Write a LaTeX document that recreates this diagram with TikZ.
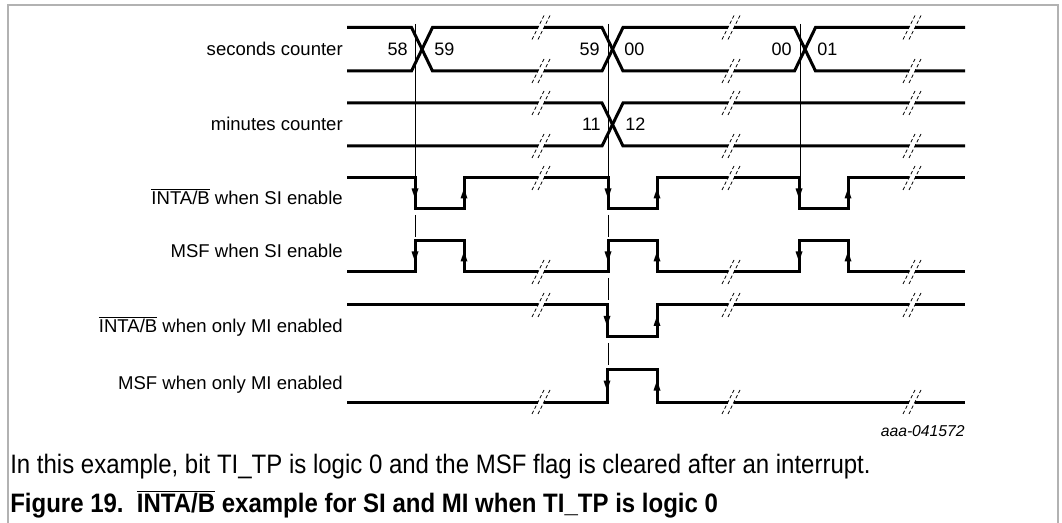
\documentclass[tikz,border=0pt]{standalone}
\usepackage{fontspec}
\setmainfont{Liberation Sans}
\usepackage{xcolor}
\usepackage{graphicx}

\definecolor{framegray}{RGB}{178,178,178}

\tikzset{
  sig/.style={line width=2.25pt, line join=miter},
  guide/.style={line width=0.6pt},
  brk/.style={line width=0.6pt, dash pattern=on 2.6pt off 1.8pt},
  lbl/.style={anchor=base east, inner sep=0pt, font=\fontsize{13.9}{16}\selectfont},
  val/.style={inner sep=0pt, font=\fontsize{13.5}{16}\selectfont}
}
% break sign on a line: x, y
\newcommand{\brkmark}[2]{%
  \fill[white] (#1-3,#2-3) rectangle (#1+3,#2+3);
  \draw[brk] (#1-9,#2+12) -- (#1+3,#2-12);
  \draw[brk] (#1-3,#2+12) -- (#1+9,#2-12);}
% arrowheads on edges: x, middle of edge
\newcommand{\tipdn}[2]{\fill (#1-3.5,#2-5) -- (#1+3.5,#2-5) -- (#1,#2+5) -- cycle;}
\newcommand{\tipup}[2]{\fill (#1-3.5,#2+5) -- (#1+3.5,#2+5) -- (#1,#2-5) -- cycle;}
\newcommand{\inta}{$\overline{\hbox{INTA/B}}$}

\begin{document}
\begin{tikzpicture}[x=0.75pt,y=-0.75pt]
  \useasboundingbox (0,0) rectangle (1062,523);
  % frame
  \draw[framegray, line width=1.1pt] (8,523) -- (8,5) -- (1058,5) -- (1058,523);

  % guide lines
  \draw[guide] (415,24) -- (415,178) (415,215) -- (415,237);
  \draw[guide] (608,24) -- (608,178) (608,215) -- (608,237)
               (608,278) -- (608,300) (608,343) -- (608,365);
  \draw[guide] (800,24) -- (800,178);

  % seconds counter
  \draw[sig] (347,27.5) -- (411.5,27.5) -- (432.5,71) -- (602,71) -- (623,27.5)
             -- (794.5,27.5) -- (815.5,71) -- (965,71);
  \draw[sig] (347,71) -- (411.5,71) -- (432.5,27.5) -- (602,27.5) -- (623,71)
             -- (794.5,71) -- (815.5,27.5) -- (965,27.5);
  % minutes counter
  \draw[sig] (347,103) -- (602,103) -- (623,146) -- (965,146);
  \draw[sig] (347,146) -- (602,146) -- (623,103) -- (965,103);
  % INTA/B when SI enable
  \draw[sig] (347,178) -- (415,178) -- (415,209) -- (464,209) -- (464,178)
             -- (608,178) -- (608,209) -- (657,209) -- (657,178)
             -- (799,178) -- (799,209) -- (848,209) -- (848,178) -- (965,178);
  % MSF when SI enable
  \draw[sig] (347,272) -- (415,272) -- (415,241) -- (464,241) -- (464,272)
             -- (608,272) -- (608,241) -- (657,241) -- (657,272)
             -- (799,272) -- (799,241) -- (848,241) -- (848,272) -- (965,272);
  % INTA/B when only MI enabled
  \draw[sig] (347,305) -- (607,305) -- (607,337) -- (657,337) -- (657,305) -- (965,305);
  % MSF when only MI enabled
  \draw[sig] (347,402) -- (607,402) -- (607,369) -- (657,369) -- (657,402) -- (965,402);

  % arrowheads
  \foreach \x/\y in {415/193.5, 608/193.5, 799/193.5, 415/256.5, 608/256.5, 799/256.5,
                     607/321, 607/385.5}
    {\tipdn{\x}{\y}}
  \foreach \x/\y in {464/193.5, 657/193.5, 848/193.5, 464/256.5, 657/256.5, 848/256.5,
                     657/321, 657/385.5}
    {\tipup{\x}{\y}}

  % breaks
  \foreach \x in {541,731,912}
    \foreach \y in {27.5,71,103,146,178,272,305,402}
      {\brkmark{\x}{\y}}

  % values
  \node[val, anchor=base east] (s58) at (408,55.5) {58};
  \node[val, anchor=base west] (s59) at (434,55.5) {59};
  \node[val, anchor=base east] (s59b) at (600,55.5) {59};
  \node[val, anchor=base west] (s00) at (624,55.5) {00};
  \node[val, anchor=base east] (s00b) at (792,55.5) {00};
  \node[val, anchor=base west] (s01) at (817,55.5) {01};
  \node[val, anchor=base east] (m11) at (601,131) {11};
  \node[val, anchor=base west] (m12) at (625,131) {12};

  % signal names
  \node[lbl] (lsec) at (343,56) {seconds counter};
  \node[lbl] (lmin) at (343,130.5) {minutes counter};
  \node[lbl] (lintsi) at (343,205) {\inta{} when SI enable};
  \node[lbl] (lmsfsi) at (343,257.5) {MSF when SI enable};
  \node[lbl] (lintmi) at (343,333) {\inta{} when only MI enabled};
  \node[lbl] (lmsfmi) at (343,389.5) {MSF when only MI enabled};

  \node[anchor=base east, inner sep=0pt, font=\fontsize{11.8}{14}\selectfont\itshape]
    (code) at (965,436) {aaa-041572};

  % captions
  \node[anchor=base west, inner sep=0pt, font=\fontsize{20}{24}\selectfont]
    (note) at (10,473) {\scalebox{0.9}[1]{In this example, bit TI\_TP is logic 0 and the MSF flag is cleared after an interrupt.}};
  \node[anchor=base west, inner sep=0pt, font=\fontsize{20}{24}\selectfont\bfseries]
    (title) at (10,512) {\scalebox{0.9}[1]{Figure 19.\ \ \inta{} example for SI and MI when TI\_TP is logic 0}};
\end{tikzpicture}
\end{document}
